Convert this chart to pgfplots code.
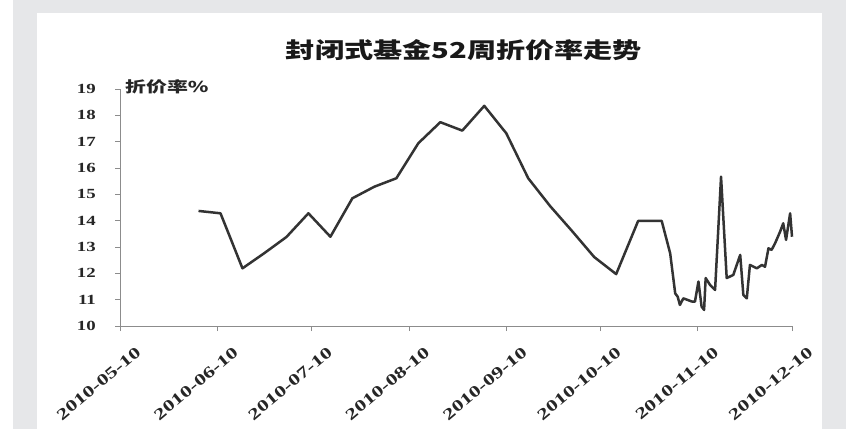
\documentclass[border=0pt]{standalone}
\usepackage{fontspec}
\usepackage{pgfplots}
\pgfplotsset{compat=1.18}
\setmainfont{Liberation Serif}
\newfontfamily\tickfont[FakeStretch=1.35]{Liberation Serif}
\newfontfamily\xtickfont[FakeStretch=1.4]{Liberation Serif}
\newfontfamily\cjk[FakeStretch=1.4]{Noto Sans CJK SC}
\newfontfamily\cjktitle[FakeStretch=1.33]{Noto Sans CJK SC}
\definecolor{bggrey}{HTML}{E6E7E9}
\definecolor{axgrey}{HTML}{8C8C8C}
\definecolor{linecol}{HTML}{333333}
\begin{document}
\begin{tikzpicture}[x=1bp,y=1bp]
\useasboundingbox (0,0) rectangle (846,429);
\fill[white] (0,0) rectangle (846,429);
\fill[bggrey] (13,0) rectangle (846,429);
\fill[white] (37,0) rectangle (822,416);
\node[font=\cjktitle\bfseries\fontsize{22}{25}\selectfont, text=black!90] at (464,379) {封闭式基金52周折价率走势};
\begin{axis}[
  at={(120bp,103bp)}, anchor=south west,
  scale only axis, width=672bp, height=237bp,
  xmin=0, xmax=214, ymin=10, ymax=19,
  axis x line*=bottom, axis y line*=left,
  axis line style={axgrey, line width=0.8bp},
  every tick/.style={axgrey, line width=0.8bp},
  tick align=outside, major tick length=5bp,
  ytick={10,11,12,13,14,15,16,17,18,19},
  xtick={0,31,61,92,123,153,184,214},
  xticklabels={2010-05-10,2010-06-10,2010-07-10,2010-08-10,2010-09-10,2010-10-10,2010-11-10,2010-12-10},
  yticklabel style={font=\tickfont\bfseries\fontsize{14}{16}\selectfont, text=black!85, anchor=east, inner sep=0pt, xshift=-19bp},
  xticklabel style={font=\xtickfont\bfseries\fontsize{16}{18}\selectfont, text=black!85, rotate=40, anchor=north east, inner sep=0pt, xshift=2bp, yshift=-21bp},
  /pgf/number format/assume math mode=true,
  clip=false,
]
\addplot[linecol, line width=2.5bp, line join=round, mark=none] coordinates {
(25,14.37) (32,14.28) (39,12.19) (46,12.77) (53,13.38) (60,14.28) (67,13.39)
(74,14.85) (81,15.29) (88,15.61) (95,16.94) (102,17.74) (109,17.42) (116,18.36)
(123,17.32) (130,15.61) (137,14.55) (144,13.60) (151,12.62) (158,11.97)
(165,13.99) (172.5,13.99) (175.2,12.76) (176.8,11.24) (177.6,11.11) (178.3,10.80)
(179.4,11.05) (182.1,10.93) (183.1,10.93) (184.2,11.69) (185.2,10.74) (186.0,10.61)
(186.5,11.82) (187.9,11.56) (189.5,11.37) (191.4,15.67) (193.2,11.82) (195.3,11.94)
(197.5,12.70) (198.5,11.18) (199.6,11.05) (200.6,12.32) (202.8,12.19) (204.4,12.32)
(205.4,12.25) (206.5,12.95) (207.5,12.89) (208.6,13.14) (210.2,13.58) (211.2,13.90)
(212.1,13.27) (213.4,14.28) (214,13.39)
};
\node[anchor=west, font=\cjk\bfseries\fontsize{15}{17}\selectfont, text=black!85, inner sep=0pt] at (rel axis cs:0,1) [xshift=5bp, yshift=2bp] {折价率\%};
\end{axis}
\end{tikzpicture}
\end{document}
